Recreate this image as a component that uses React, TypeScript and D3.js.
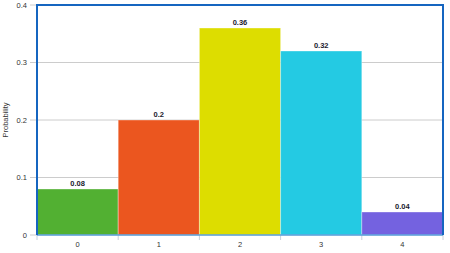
import React from "react";
import * as d3 from "d3";

const categories = ["0", "1", "2", "3", "4"];
const probabilities = [0.08, 0.2, 0.36, 0.32, 0.04];
const barColors = ["#52b032", "#eb561f", "#dddd00", "#24cae3", "#7462e0"];
const yTicks = [0, 0.1, 0.2, 0.3, 0.4];
const yTickLabels = ["0", "0.1", "0.2", "0.3", "0.4"];

export default function App() {
  const W = 450, H = 253;
  const left = 37, right = 443, top = 5, bottom = 235;
  const x = d3.scaleBand().domain(categories).range([left, right]).padding(0);
  const y = d3.scaleLinear().domain([0, 0.4]).range([bottom, top]);
  const font = "'Liberation Sans', Arial, sans-serif";
  return (
    <svg width={W} height={H} style={{ position: "absolute", left: 0, top: 0, background: "#fff" }}>
      {yTicks.map((t, i) => (
        <g key={i}>
          <line x1={30} x2={right} y1={y(t)} y2={y(t)} stroke="#cccccc" strokeWidth={1} />
          <text x={27} y={y(t) + 2.5} textAnchor="end" fontSize={7.5} fill="#333" fontFamily={font}>{yTickLabels[i]}</text>
        </g>
      ))}
      {categories.map((c, i) => (
        <g key={c}>
          <rect x={x(c)!} y={y(probabilities[i])} width={x.bandwidth()} height={bottom - y(probabilities[i])}
            fill={barColors[i]} stroke="rgba(255,255,255,0.35)" strokeWidth={1} />
          <text x={x(c)! + x.bandwidth() / 2} y={y(probabilities[i]) - 3.5} textAnchor="middle" fontSize={7.5}
            fontWeight="bold" fill="#1a1a2e" fontFamily={font}>{String(probabilities[i])}</text>
          <text x={x(c)! + x.bandwidth() / 2} y={247} textAnchor="middle" fontSize={7.5} fill="#333" fontFamily={font}>{c}</text>
        </g>
      ))}
      {[...categories.map((c) => x(c)!), right].map((px, i) => (
        <line key={i} x1={px} x2={px} y1={bottom} y2={bottom + 5} stroke="#c8d0dc" strokeWidth={1} />
      ))}
      <line x1={left} x2={right} y1={bottom} y2={bottom} stroke="#5aa0dc" strokeWidth={1.5} />
      <path d={`M${left},${bottom} V${top} H${right} V${bottom}`} fill="none" stroke="#1565c0" strokeWidth={2} />
      <text transform={`translate(8,${(top + bottom) / 2}) rotate(-90)`} textAnchor="middle" fontSize={7.5} fill="#333" fontFamily={font}>Probability</text>
    </svg>
  );
}
